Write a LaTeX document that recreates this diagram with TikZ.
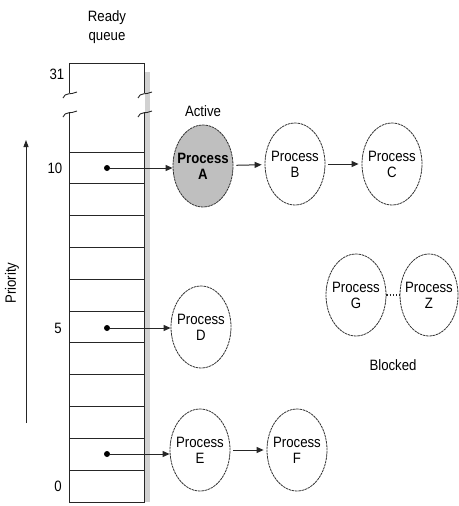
\documentclass[tikz,border=0pt]{standalone}
\usepackage{fontspec}
\setmainfont{Liberation Sans}[FakeStretch=0.88]
\usetikzlibrary{shapes.geometric,arrows.meta}
\begin{document}
\begin{tikzpicture}[x=1pt,y=-1pt,
  txt/.style={font=\fontsize{15}{16}\selectfont, inner sep=0pt},
  proc/.style={ellipse, draw=black!80, line width=0.8pt, dash pattern=on 2.5pt off 0.7pt,
    minimum width=60pt, minimum height=82pt, inner xsep=-10pt, inner ysep=0pt, align=center,
    font=\fontsize{15}{16}\selectfont, fill=white},
  arr/.style={draw=black!85, line width=1pt, -{Triangle[length=7pt,width=6pt]}},
  qline/.style={draw=black!85, line width=0.9pt},
  dot/.style={circle, fill=black, inner sep=0pt, minimum size=6pt}
]
\useasboundingbox (0,0) rectangle (458,506);
% queue shadow
\fill[black!18] (145,72) rectangle (150,502);
% queue outline
\draw[qline] (69,93) -- (69,63) -- (144,63) -- (144,93);
\draw[qline] (69,112) -- (69,502) -- (144,502) -- (144,112);
\foreach \x in {69,144}{
  \draw[qline] (\x-6,98) .. controls (\x-4,92) and (\x+2,95) .. (\x+8,92);
  \draw[qline] (\x-6,117) .. controls (\x-4,111) and (\x+2,114) .. (\x+8,111);
}
\foreach \i in {0,...,10}{
  \draw[qline] (69,{152+\i*31.8}) -- (144,{152+\i*31.8});
}
% labels
\node[txt] (ready) at (107,18) {Ready};
\node[txt] (queue) at (107,38) {queue};
\node[txt] (n31) at (57,74) {31};
\node[txt] (n10) at (55,168) {10};
\node[txt] (n5) at (58,328) {5};
\node[txt] (n0) at (58,486) {0};
\node[txt, rotate=90] (prio) at (12,283) {Priority};
\coordinate (pbot) at (26,423);
\coordinate (ptop) at (26,140);
\draw[draw=black!85, line width=0.9pt, -{Triangle[length=7pt,width=5pt]}] (pbot) -- (ptop);
% dots
\node[dot] (d10) at (107,168) {};
\node[dot] (d5) at (107,328) {};
\node[dot] (d1) at (107,454) {};
% processes
\node[proc, fill=black!25, font=\fontsize{15}{16}\selectfont\bfseries] (A) at (203,166) {Process\\A};
\node[proc] (B) at (295,164) {Process\\B};
\node[proc] (C) at (392,164) {Process\\C};
\node[proc] (D) at (201,327) {Process\\D};
\node[proc] (E) at (200,450) {Process\\E};
\node[proc] (F) at (297,450) {Process\\F};
\node[proc] (G) at (356,295) {Process\\G};
\node[proc, minimum width=58pt] (Z) at (429,295) {Process\\Z};
\node[txt] (active) at (203,111) {Active};
\node[txt] (blocked) at (393,365) {Blocked};
% connectors
\draw[arr] (d10) -- (d10 -| A.west);
\draw[arr] (d5) -- (d5 -| D.west);
\draw[arr] (d1) -- (d1 -| E.west);
\draw[arr, shorten <=3pt, shorten >=3pt] (A) -- (B);
\draw[arr, shorten <=3pt, shorten >=3pt] (B) -- (C);
\draw[arr, shorten <=3pt, shorten >=3pt] (E) -- (F);
\draw[black!85, line width=1.2pt, dotted] (G) -- (Z);
\end{tikzpicture}
\end{document}
